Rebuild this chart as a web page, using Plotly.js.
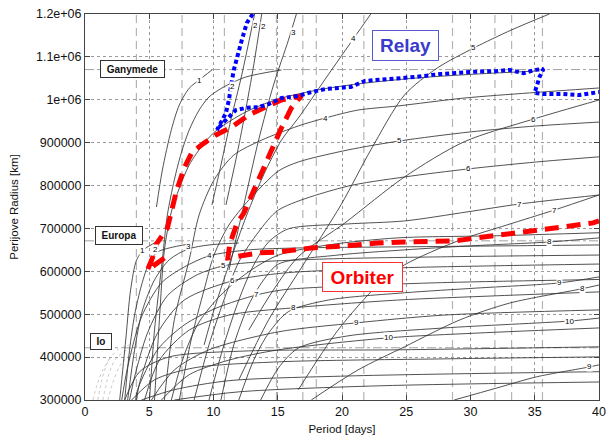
<!DOCTYPE html>
<html><head><meta charset="utf-8">
<script src="https://cdn.plot.ly/plotly-3.0.1.min.js"></script>
<style>html,body{margin:0;padding:0;background:#fff}#chart{width:607px;height:439px}</style>
</head><body><div id="chart"></div>
<script>
// ---- Ganymede family contours
const g1P=[5.56,6.02,6.72,7.34,8.11,8.88,9.88];
const g1R=[750000,836000,930000,988000,1027000,1046000,1069500];
const g2P=[5.02,5.41,6.02,6.41,6.95,7.49,8.11,8.88,9.65,10.66,12.51,15.29];
const g2R=[300000,463000,627000,731500,813000,876000,929600,976000,1006500,1027500,1053000,1069500];
const g3P=[5.41,5.79,6.18,6.72,7.34,8.11,9.27,10.27,12.51,15.06,18.15,21.24,25.87,30.5,35.14];
const g3R=[300000,487000,650000,738500,794000,848000,899000,929600,971500,1002000,1023000,1037000,1051000,1060000,1067000];
const g4P=[6.18,6.95,8.11,8.88,10.04,11.58,13.75,16.6,18.69,21.24,24.32,29.5,34.59,40];
const g4R=[300000,487000,627000,731500,813000,871000,906000,939000,957500,976000,985500,1004000,1016000,1027500];
const g5P=[7.34,8.26,9.27,10.04,11.2,12.74,15.06,16.6,20.46,24.48,29.96,35.14,40];
const g5R=[300000,440000,557000,638000,708000,766000,834000,855000,883000,904000,925000,939000,948000];
const g6P=[8.49,9.65,10.81,11.97,13.51,15.06,20.23,24.86,29.88,35.14,40];
const g6R=[300000,428500,533000,622000,692000,743000,797000,820000,839000,855000,867000];
const g7P=[9.65,10.81,11.97,13.13,14.29,15.83,20.46,24.86,29.73,33.82,40];
const g7R=[300000,428500,533000,615000,668500,699000,710500,717500,738500,757000,778000];
const g8P=[10.58,11.58,12.74,13.9,15.06,19.69,24.86,29.73,36.14,40];
const g8R=[300000,428500,522000,580000,617000,638000,650000,659000,668500,678000];
const g9P=[11.97,13.13,14.29,15.83,18.92,24.86,30.5,36.91,40];
const g9R=[300000,393000,456000,506000,533000,550000,561000,573000,587000];
const g10P=[13.67,15.06,16.6,20.46,27.95,37.68,40];
const g10R=[300000,375000,421000,449500,468000,484000,491000];
const s1P=[6.72,7.72,8.88,10.58,12.74,15.06,18.92,24.32,32.05,40];
const s1R=[300000,405000,482000,545000,599000,638000,661500,678000,683000,690000];
// ---- Steep (outer moon) contours
const c2aP=[9.88,10.58,11.35,12.2,13.2];
const c2aR=[755000,848000,953000,1058000,1200000];
const c2bP=[10.97,11.74,12.43,13.13,13.75];
const c2bR=[755000,860000,964500,1081000,1200000];
const c3P=[11.2,12.36,13.51,14.67,15.83,16.45];
const c3R=[603000,755000,906000,1034500,1139000,1200000];
const c4P=[9.27,10.04,11.2,12.59,13.9,15.29,16.6,18.92,20.93,22.24];
const c4R=[428500,510000,615000,731500,825000,906000,957500,1058000,1144000,1200000];
const c5P=[11.97,14.29,16.83,19.92,22.24,24.86,27.41,30.27,33.2,36.14];
const c5R=[347000,487000,608000,755000,883000,1011000,1074000,1121000,1163000,1200000];
const c6P=[12.74,14.67,16.6,20.23,24.86,29.5,34.9,40];
const c6R=[463000,557000,634000,713000,820000,902000,955000,999500];
const c7P=[16.6,19.69,22.78,24.86,29.19,32.82,36.53,40];
const c7R=[324000,463000,568000,615000,673000,708000,743000,778000];
const c8P=[17.61,21.24,24.86,29.19,33.05,38.61,40];
const c8R=[300000,370000,424000,487000,526000,559000,568000];
const c9P=[28.73,32.05,35.14,39.23,40];
const c9R=[300000,328000,354000,377000,382000];
// ---- Europa family contours
const e1P=[2.70,3.17,3.55,4.02,4.63,5.41];
const e1R=[300000,440000,557000,627000,652000,666000];
const e2P=[3.09,3.47,3.86,4.40,5.02,5.64,6.56,8.11];
const e2R=[300000,417000,498000,568000,622000,645000,654500,664000];
const e3P=[3.32,3.86,4.48,5.41,6.56,8.03,9.65,11.97];
const e3R=[300000,417000,510000,580000,627000,652000,661500,666000];
const e4P=[2.86,3.32,4.40,5.95,7.72,9.65,12.74,16.6,24.32,40];
const e4R=[300000,377000,494000,573000,610000,636000,650000,654500,657000,661500];
const e5P=[3.47,3.86,4.86,6.41,8.73,10.81,13.51,18.92,28.19,40];
const e5R=[300000,354000,456000,543000,592000,613000,622000,629000,634000,638000];
const e6P=[4.02,4.25,5.64,7.72,11.51,15.44,24.32,32.05,40];
const e6R=[300000,340000,456000,533000,578000,596000,608000,613000,617000];
const e7P=[3.94,4.09,5.64,7.72,10.27,13.36,15.44,20.46,28.19,40];
const e7R=[300000,324000,417000,475000,515000,545000,557000,566000,574000,581000];
const e8P=[4.63,5.79,8.11,11.2,16.22,24.32,32.05,40];
const e8R=[300000,393000,463000,498000,515000,533000,543000,552000];
const e9P=[5.17,6.95,9.65,15.06,21.16,27.95,40];
const e9R=[300000,370000,417000,459000,480000,498000,510000];
const e10P=[5.95,8.11,11.2,15.06,23.63,30.5,40];
const e10R=[300000,359000,393000,417000,445000,456000,468000];
// ---- lower flat contours
const u1P=[3.09,4.25,6.56,12.74,24.32,40];
const u1R=[300000,366000,400500,414500,417000,424000];
const u2P=[3.63,5.41,8.49,15.06,28.19,40];
const u2R=[300000,347000,375000,389000,396000,400500];
const u3P=[4.4,6.95,11.2,20.46,40];
const u3R=[300000,324000,345000,356000,366000];
const u4P=[6.95,11.97,22.78,40];
const u4R=[300000,319000,333000,342000];
// ---- Io family (faint)
const i1P=[1.0,1.31,1.78,2.55,3.47];
const i1R=[300000,347000,389000,417000,428500];
const i2P=[1.39,1.78,2.32,3.24,4.25];
const i2R=[300000,352000,393000,417000,426000];
const i3P=[1.78,2.24,2.86,3.86];
const i3R=[300000,347000,387000,412000];
const i4P=[0.62,0.93,1.39,1.93];
const i4R=[300000,335000,370000,398000];
// ---- trajectories
const relayP=[13.05,12.59,12.2,11.81,11.58,11.35,11.2,10.97,10.58,10.27,10.66,11.2,11.74,12.51,13.51,14.29,15.29,16.6,17.61,18.69,19.69,20.69,21.78,23.78,25.64,27.64,29.96,32.05,33.05,34.13,34.98,35.68,35.37,35.14,34.98,35.68,37.22,38.46,40];
const relayR=[1200000,1179000,1139000,1100000,1069500,1030000,999500,969000,946000,929600,944000,960000,976000,981000,983000,990000,1004000,1009000,1018000,1025000,1027500,1030000,1044000,1048500,1053000,1060000,1065000,1067000,1069500,1062000,1069500,1072000,1053000,1030000,1016000,1013500,1013500,1011000,1018000];
const orbP=[6.18,4.86,5.25,5.56,6.41,6.72,7.1,7.72,8.34,9.27,10.19,11.43,12.74,14.05,15.29,16.37,16.83,16.06,15.21,14.29,13.36,12.36,11.81,11.27,11.12,12.0,13.51,15.06,17.61,20.23,22.78,24.86,28.73,30.5,33.05,34.9,37.22,39.54,40];
const orbR=[631000,603000,631000,664000,701000,743000,785000,841000,878500,899000,918000,936600,964500,983000,999500,1006500,1009000,981000,929600,867000,806000,736000,710500,664000,631000,636000,643000,645000,654500,659000,666000,668500,671000,678000,687000,694000,703500,713000,717500];
// ---- contour labels (v-infinity, km/s)
const labelText=['1','2','2','2','3','4','5','4','5','6','6','7','7','8','9','8','10','9','1','2','3','4','5','6','7','8','9','10'];
const labelP=[8.88,11.5,13.28,13.9,16.22,20.93,30.27,18.69,24.48,29.88,34.9,33.82,36.53,36.14,36.91,38.69,37.68,39.23,4.48,5.48,8.03,9.65,10.81,11.51,13.36,16.22,21.16,23.63];
const labelR=[1044000,1030000,1174000,1170000,1156000,1144000,1123000,957500,904000,839000,955000,755000,743000,668500,573000,561000,484000,377000,647500,652000,657000,636000,613000,578000,545000,515000,480000,445000];
// ---- moons and resonant periods
const moonNames=['Ganymede','Europa','Io'];
const moonRadii=[1070400,671100,421800];
const resonantPeriods=[4.0,7.55,10.85,14.9,16.95,18.0,21.7,28.6,31.9,33.2,35.6];
// ---- axis ticks
const xTicks=[0,5,10,15,20,25,30,35,40];
const yTicks=[300000,400000,500000,600000,700000,800000,900000,1000000,1100000,1200000];
const yTickText=['300000','400000','500000','600000','700000','800000','900000','1e+06','1.1e+06','1.2e+06'];

const blackCurves=[[g1P,g1R],[g2P,g2R],[g3P,g3R],[g4P,g4R],[g5P,g5R],[g6P,g6R],[g7P,g7R],[g8P,g8R],[g9P,g9R],[g10P,g10R],[s1P,s1R],
 [c2aP,c2aR],[c2bP,c2bR],[c3P,c3R],[c4P,c4R],[c5P,c5R],[c6P,c6R],[c7P,c7R],[c8P,c8R],[c9P,c9R],
 [e1P,e1R],[e2P,e2R],[e3P,e3R],[e4P,e4R],[e5P,e5R],[e6P,e6R],[e7P,e7R],[e8P,e8R],[e9P,e9R],[e10P,e10R],
 [u1P,u1R],[u2P,u2R],[u3P,u3R],[u4P,u4R]];
const ioCurves=[[i1P,i1R],[i2P,i2R],[i3P,i3R],[i4P,i4R]];

const traces=[];
ioCurves.forEach(c=>traces.push({x:c[0],y:c[1],mode:'lines',hoverinfo:'skip',
  line:{color:'#bbbbbb',width:0.8,dash:'dot',shape:'spline',smoothing:0.8}}));
blackCurves.forEach(c=>traces.push({x:c[0],y:c[1],mode:'lines',hoverinfo:'skip',
  line:{color:'#333333',width:0.85,shape:'spline',smoothing:0.8}}));
traces.push({x:orbP,y:orbR,mode:'lines',hoverinfo:'skip',line:{color:'#ff0000',width:5,dash:'14px,8px'}});
traces.push({x:relayP,y:relayR,mode:'lines',hoverinfo:'skip',line:{color:'#0000ff',width:4,dash:'4px,3px'}});

const shapes=[];
resonantPeriods.forEach(p=>shapes.push({type:'line',xref:'x',yref:'paper',x0:p,x1:p,y0:0,y1:1,layer:'below',
  line:{color:'#b4b4b4',width:1.2,dash:'8px,5px'}}));
moonRadii.forEach(r=>shapes.push({type:'line',xref:'paper',yref:'y',x0:0,x1:1,y0:r,y1:r,layer:'below',
  line:{color:'#a0a0a0',width:1,dash:'dashdot'}}));

const annotations=[];
labelText.forEach((t,i)=>annotations.push({x:labelP[i],y:labelR[i],text:t,showarrow:false,
  font:{size:8,color:'#000000'},bgcolor:'#ffffff',borderpad:0}));
const boxPos=[[3.67,1071800,59,12],[2.63,683700,42,13],[1.24,436600,16,11]];
moonNames.forEach((m,i)=>annotations.push({x:boxPos[i][0],y:boxPos[i][1],text:'<b>'+m+'</b>',showarrow:false,
  font:{size:10,color:'#111'},bgcolor:'#ffffff',bordercolor:'#333',borderwidth:1,borderpad:2,
  width:boxPos[i][2],height:boxPos[i][3]}));
annotations.push({x:24.98,y:1126600,text:'<b>Relay</b>',showarrow:false,font:{size:19,color:'#3a3acc'},
  bgcolor:'#ffffff',bordercolor:'#5a5ad0',borderwidth:1,borderpad:2,width:61,height:25});
annotations.push({x:21.58,y:586950,text:'<b>Orbiter</b>',showarrow:false,font:{size:19,color:'#ff0000'},
  bgcolor:'#ffffff',bordercolor:'#ff3030',borderwidth:1,borderpad:2,width:75,height:24});

const layout={
  width:607,height:439,margin:{l:85,r:8,t:14,b:39},showlegend:false,
  paper_bgcolor:'#ffffff',plot_bgcolor:'#ffffff',
  font:{family:'Liberation Sans, Arial, sans-serif',size:12.5,color:'#111'},
  xaxis:{range:[0,40],tickvals:xTicks,ticks:'inside',ticklen:5,tickcolor:'#444',showline:true,linecolor:'#444',mirror:'ticks',
    showgrid:true,gridcolor:'#9a9a9a',griddash:'dot',gridwidth:1,zeroline:false,automargin:false,ticklabeloverflow:'allow',
    title:{text:'Period [days]',font:{size:11.5},standoff:6}},
  yaxis:{range:[300000,1200000],tickvals:yTicks,ticktext:yTickText,ticks:'inside',ticklen:5,tickcolor:'#444',showline:true,linecolor:'#444',mirror:'ticks',
    showgrid:true,gridcolor:'#9a9a9a',griddash:'dot',gridwidth:1,zeroline:false,automargin:false,ticklabeloverflow:'allow',
    title:{text:'Perijove Radius [km]',font:{size:11.5},standoff:14}},
  shapes:shapes,annotations:annotations
};
Plotly.newPlot('chart',traces,layout,{displayModeBar:false,staticPlot:true});
</script></body></html>
